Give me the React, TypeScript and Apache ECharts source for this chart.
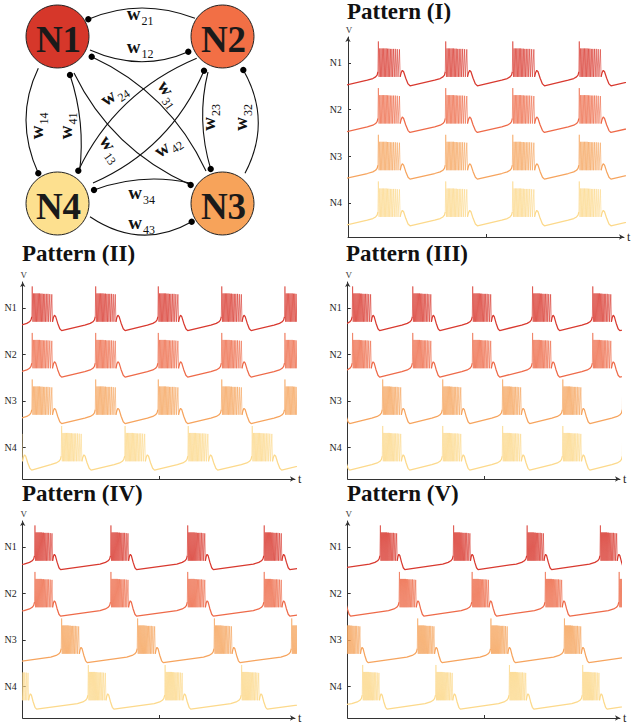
import React, { useEffect, useRef } from 'react';
import * as echarts from 'echarts';

const FONT = "'Liberation Serif', 'DejaVu Serif', serif";

const NEURONS = ['N1', 'N2', 'N3', 'N4'];
const PATTERNS = ['Pattern (I)', 'Pattern (II)', 'Pattern (III)', 'Pattern (IV)', 'Pattern (V)'];

// Burst onset times (t axis 0–100) for N1..N4; values outside 0–100 are bursts just off the visible range
const ONSETS_I = [
  [-13.3, 11.0, 35.4, 59.7, 83.8, 108.1],
  [-13.3, 11.0, 35.4, 59.7, 83.8, 108.1],
  [-13.3, 11.0, 35.4, 59.7, 83.8, 108.1],
  [-13.3, 11.0, 35.4, 59.7, 83.8, 108.1],
];
const ONSETS_II = [
  [-19.7, 3.5, 26.8, 49.8, 73.1, 96.3],
  [-19.7, 3.5, 26.8, 49.8, 73.1, 96.3],
  [-19.7, 3.5, 26.8, 49.8, 73.1, 96.3],
  [-7.5, 14.3, 37.6, 60.8, 84.3, 107.5],
];
const ONSETS_III = [
  [-20.2, 1.8, 23.9, 45.9, 67.9, 90.0, 112.0],
  [-20.2, 1.8, 23.9, 45.9, 67.9, 90.0, 112.0],
  [-9.2, 12.85, 34.9, 56.9, 79.0, 101.0],
  [-9.2, 12.85, 34.9, 56.9, 79.0, 101.0],
];
const ONSETS_IV = [
  [-23.6, 4.5, 32.4, 60.6, 88.7, 116.8],
  [-23.6, 4.5, 32.4, 60.6, 88.7, 116.8],
  [-13.8, 14.3, 42.2, 70.4, 98.8],
  [-4.3, 24.1, 52.3, 80.4, 108.5],
];
const ONSETS_V = [
  [-14.9, 12.0, 38.9, 65.9, 92.8, 119.7],
  [-7.9, 19.0, 45.7, 72.6, 99.7],
  [-1.5, 25.7, 52.6, 79.6, 106.5],
  [-21.4, 5.5, 32.4, 59.4, 86.3, 113.2],
];
const ONSETS = [ONSETS_I, ONSETS_II, ONSETS_III, ONSETS_IV, ONSETS_V];
// burst duration stretch per pattern
const BURST_SCALE = [1.19, 1.12, 1.03, 0.975, 0.93];

// Burst waveform (time after onset, voltage relative to the trace's baseline tick)
const PRE = [[-4, -0.37], [-2, -0.335], [-1, -0.3], [-0.45, -0.26], [-0.15, -0.19]];
const SPIKE_T = [0, 0.4, 0.8, 1.2, 1.6, 2.0, 2.4, 2.8, 3.22, 3.66, 4.12, 4.62, 5.16, 5.76, 6.42];
const SPIKE_TOP = [0.46, 0.31, 0.31, 0.31, 0.31, 0.31, 0.31, 0.305, 0.305, 0.3, 0.3, 0.3, 0.3, 0.295, 0.29];
const SPIKE_W = 0.22;
const SPIKE_LOW = -0.3;
const POST = [[0.3, -0.21], [0.65, -0.16], [1.05, -0.19], [1.7, -0.33], [2.4, -0.45], [3.0, -0.49]];

const TRACE_COLORS = ['#d8392f', '#ee6a49', '#f6a45e', '#fcd98b'];
const NODE_FILL = ['#d6372a', '#f26f45', '#f7a35a', '#fde08f'];

const GRIDS = [
  { left: 348, top: 37, width: 276, height: 200 },
  { left: 22.7, top: 282, width: 272.3, height: 197 },
  { left: 347.7, top: 282, width: 272.3, height: 197 },
  { left: 22.7, top: 521, width: 272.3, height: 197 },
  { left: 347.7, top: 521, width: 272.3, height: 197 },
];
const Y_MIN = [0.27, 0.32, 0.32, 0.32, 0.32];
const Y_MAX = 4.555;
const TITLE_POS = [[347, 0], [22, 242], [346, 242], [22, 482], [347, 482]];

// Network diagram layout
const NODE_POS = [[57.5, 36.5], [222.5, 36.5], [222.5, 203.5], [57.5, 203.5]];
const NODE_R = 31.5;
// [x1, y1, cpx, cpy, x2, y2] with the terminal dot at (x2, y2)
const EDGES = [
  [195, 18.3, 140, -2.8, 88.3, 19.3],
  [90, 50, 140.8, 72.6, 188.3, 51.7],
  [38.3, 68.3, 13.7, 119.2, 38.3, 173.3],
  [79.5, 172, 85.8, 122.5, 70, 75],
  [208, 72, 196, 120, 210.7, 169],
  [245, 173.3, 272.4, 121, 243.3, 70],
  [190, 183, 141.7, 172.5, 94, 190],
  [90, 216.7, 140.8, 250.8, 191.7, 221.7],
  [206, 171, 169.7, 92.7, 91.7, 56.7],
  [74, 73, 111.2, 149.5, 190.7, 185],
  [196.7, 58.3, 115.5, 92.5, 78.3, 170.7],
  [93, 183, 170.5, 148.8, 204, 70.7],
];
// [sub, x, y, rotation(deg)]
const W_LABELS: [string, number, number, number][] = [
  ['21', 133.5, 13.3, 0],
  ['12', 133.5, 46, 0],
  ['34', 135, 192, 0],
  ['43', 135, 222.5, 0],
  ['14', 36.7, 132.5, 90],
  ['41', 65, 132.5, 90],
  ['23', 208.3, 124, 90],
  ['32', 240, 124, 90],
  ['24', 108, 97.5, 35],
  ['31', 166, 88, -55],
  ['13', 108, 143, -55],
  ['42', 161.7, 149, 35],
];

function buildTrace(onsets: number[], base: number, s: number) {
  const slow: any[] = [];
  const fast: any[] = [];
  const lastPre = PRE[PRE.length - 1];
  onsets.forEach((o) => {
    PRE.forEach(([dt, v]) => slow.push([o + dt, base + v]));
    slow.push([o + lastPre[0], '-']);
    fast.push([o + lastPre[0], base + lastPre[1]]);
    SPIKE_T.forEach((t, i) => {
      fast.push([o + s * t, base + SPIKE_TOP[i]]);
      fast.push([o + s * (t + SPIKE_W), base + SPIKE_LOW]);
    });
    const end = o + s * (SPIKE_T[SPIKE_T.length - 1] + SPIKE_W);
    fast.push([end, '-']);
    slow.push([end, base + SPIKE_LOW]);
    POST.forEach(([dt, v]) => slow.push([end + s * dt, base + v]));
  });
  return { slow, fast };
}

function buildOption() {
  const xAxis: any[] = [];
  const yAxis: any[] = [];
  const series: any[] = [];
  const title: any[] = [];
  GRIDS.forEach((g, p) => {
    title.push({
      text: PATTERNS[p],
      left: TITLE_POS[p][0],
      top: TITLE_POS[p][1],
      padding: 0,
      textStyle: { fontFamily: FONT, fontWeight: 'bold', fontSize: 23, color: '#111' },
    });
    xAxis.push({
      gridIndex: p,
      type: 'value',
      min: 0,
      max: 100,
      axisLine: { show: true, onZero: false, lineStyle: { color: '#333', width: 1 }, symbol: ['none', 'arrow'], symbolSize: [4, 5] },
      axisTick: { show: true, inside: true, length: 3, customValues: [50], lineStyle: { color: '#333' } },
      axisLabel: { show: false },
      splitLine: { show: false },
      name: 't',
      nameLocation: 'end',
      nameGap: 3,
      nameTextStyle: { fontFamily: FONT, fontSize: 12, color: '#222' },
    });
    yAxis.push({
      gridIndex: p,
      type: 'value',
      min: Y_MIN[p],
      max: Y_MAX,
      axisLine: { show: true, onZero: false, lineStyle: { color: '#333', width: 1 }, symbol: ['none', 'arrow'], symbolSize: [4, 5] },
      axisTick: { show: true, inside: true, length: 3, customValues: [1, 2, 3, 4], lineStyle: { color: '#333' } },
      axisLabel: {
        show: true,
        customValues: [1, 2, 3, 4],
        formatter: (v: number) => NEURONS[4 - Math.round(v)],
        fontFamily: FONT,
        fontSize: 10,
        color: '#222',
        margin: 6,
      },
      splitLine: { show: false },
      name: 'V',
      nameLocation: 'end',
      nameGap: 3,
      nameTextStyle: { fontFamily: FONT, fontSize: 9, color: '#333', padding: [0, 0, 0, 2] },
    });
    ONSETS[p].forEach((onsets, k) => {
      const { slow, fast } = buildTrace(onsets, 4 - k, BURST_SCALE[p]);
      series.push({
        type: 'line',
        xAxisIndex: p,
        yAxisIndex: p,
        data: fast,
        showSymbol: false,
        symbol: 'none',
        silent: true,
        clip: true,
        lineStyle: { color: TRACE_COLORS[k], width: 0.8, opacity: 0.78 },
      });
      series.push({
        type: 'line',
        xAxisIndex: p,
        yAxisIndex: p,
        data: slow,
        showSymbol: false,
        symbol: 'none',
        silent: true,
        clip: true,
        lineStyle: { color: TRACE_COLORS[k], width: 1.25 },
      });
    });
  });

  const graphic: any[] = [];
  EDGES.forEach((e) => {
    graphic.push({
      type: 'bezierCurve',
      silent: true,
      z: 1,
      shape: { x1: e[0], y1: e[1], cpx1: e[2], cpy1: e[3], x2: e[4], y2: e[5] },
      style: { stroke: '#111', lineWidth: 1.1, fill: null },
    });
  });
  NODE_POS.forEach(([x, y], i) => {
    graphic.push({
      type: 'circle',
      silent: true,
      z: 2,
      shape: { cx: x, cy: y, r: NODE_R },
      style: { fill: NODE_FILL[i], stroke: '#222', lineWidth: 1 },
    });
    graphic.push({
      type: 'text',
      silent: true,
      z: 3,
      style: {
        text: NEURONS[i],
        x: x + 1,
        y: y + 3,
        align: 'center',
        verticalAlign: 'middle',
        fontFamily: FONT,
        fontWeight: 'bold',
        fontSize: 37,
        fill: '#1a1a1a',
      },
    });
  });
  EDGES.forEach((e) => {
    graphic.push({
      type: 'circle',
      silent: true,
      z: 4,
      shape: { cx: e[4], cy: e[5], r: 3.2 },
      style: { fill: '#000' },
    });
  });
  W_LABELS.forEach(([sub, x, y, rot]) => {
    graphic.push({
      type: 'group',
      x,
      y,
      rotation: (rot * Math.PI) / 180,
      z: 5,
      silent: true,
      children: [
        {
          type: 'text',
          style: { text: 'w', x: 0, y: 0, align: 'center', verticalAlign: 'middle', fontFamily: FONT, fontWeight: 'bold', fontSize: 19, fill: '#111' },
        },
        {
          type: 'text',
          style: { text: sub, x: 8, y: 7.5, align: 'left', verticalAlign: 'middle', fontFamily: FONT, fontSize: 12, fill: '#111' },
        },
      ],
    });
  });

  return {
    animation: false,
    backgroundColor: '#fff',
    title,
    grid: GRIDS.map((g) => ({ ...g, containLabel: false })),
    xAxis,
    yAxis,
    series,
    graphic,
  };
}

export default function App() {
  const ref = useRef<HTMLDivElement>(null);
  useEffect(() => {
    const chart = echarts.init(ref.current as HTMLDivElement, null, { renderer: 'svg' });
    chart.setOption(buildOption() as any);
    return () => chart.dispose();
  }, []);
  return <div ref={ref} style={{ position: 'absolute', left: 0, top: 0, width: 632, height: 725 }} />;
}
